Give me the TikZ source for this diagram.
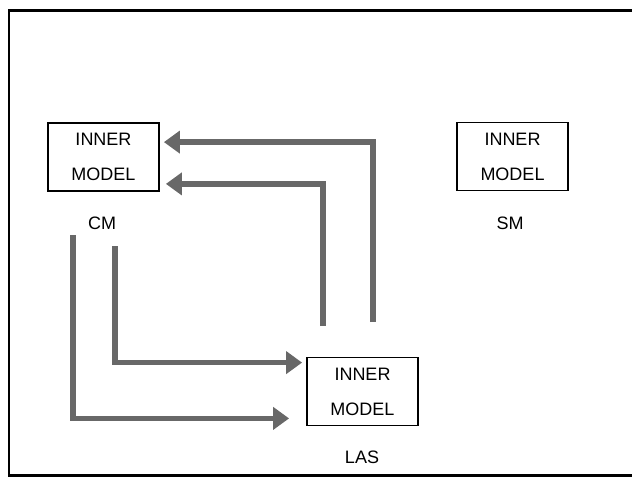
\documentclass[tikz,border=0pt]{standalone}
\usepackage{fontspec}
\setmainfont{Liberation Sans}
\usetikzlibrary{arrows.meta,positioning,calc}
\definecolor{flowgray}{HTML}{686868}

\begin{document}
\begin{tikzpicture}[
    x=1pt,y=-1pt,
    model/.style = {draw=black, line width=1.8pt, minimum width=111pt,
                    minimum height=68pt, inner sep=0pt, align=center,
                    font=\fontsize{18}{35}\selectfont},
    lbl/.style   = {font=\fontsize{18}{20}\selectfont, inner sep=0pt},
    flow/.style  = {-{Triangle[length=16pt,width=22pt]}, flowgray,
                    line width=5.5pt},
  ]
  \useasboundingbox (0,0) rectangle (632,477);

  % Cadre
  \draw[line width=3pt] (632,10.5) -- (9,10.5);
  \draw[line width=2pt] (9,9) -- (9,476);
  \draw[line width=3pt] (8,475) -- (632,475);

  % Les trois modeles
  \node[model] (cm)  at (103.5,157)   {INNER\\MODEL};
  \node[model] (sm)  at (512.5,156.5) {INNER\\MODEL};
  \node[model] (las) at (362.5,391.5) {INNER\\MODEL};

  \node[lbl] (cmlbl)  at (102,223) {CM};
  \node[lbl] (smlbl)  at (510,223) {SM};
  \node[lbl] (laslbl) at (362,457) {LAS};

  % Bouts libres des fleches
  \coordinate (upa) at (373,322);
  \coordinate (upb) at (323,326);
  \coordinate (dna) at (115,246);
  \coordinate (dnb) at (73,235);

  % LAS vers CM
  \draw[flow,shorten >=4pt] (upa) |- ([yshift=-20pt]cm.north east);
  \draw[flow,shorten >=6pt] (upb) |- ([yshift=8pt]cm.south east);

  % CM vers LAS
  \draw[flow,shorten >=4pt]  (dna) |- ([yshift=-6pt]las.north west);
  \draw[flow,shorten >=17pt] (dnb) |- ([yshift=8pt]las.south west);

\end{tikzpicture}
\end{document}
